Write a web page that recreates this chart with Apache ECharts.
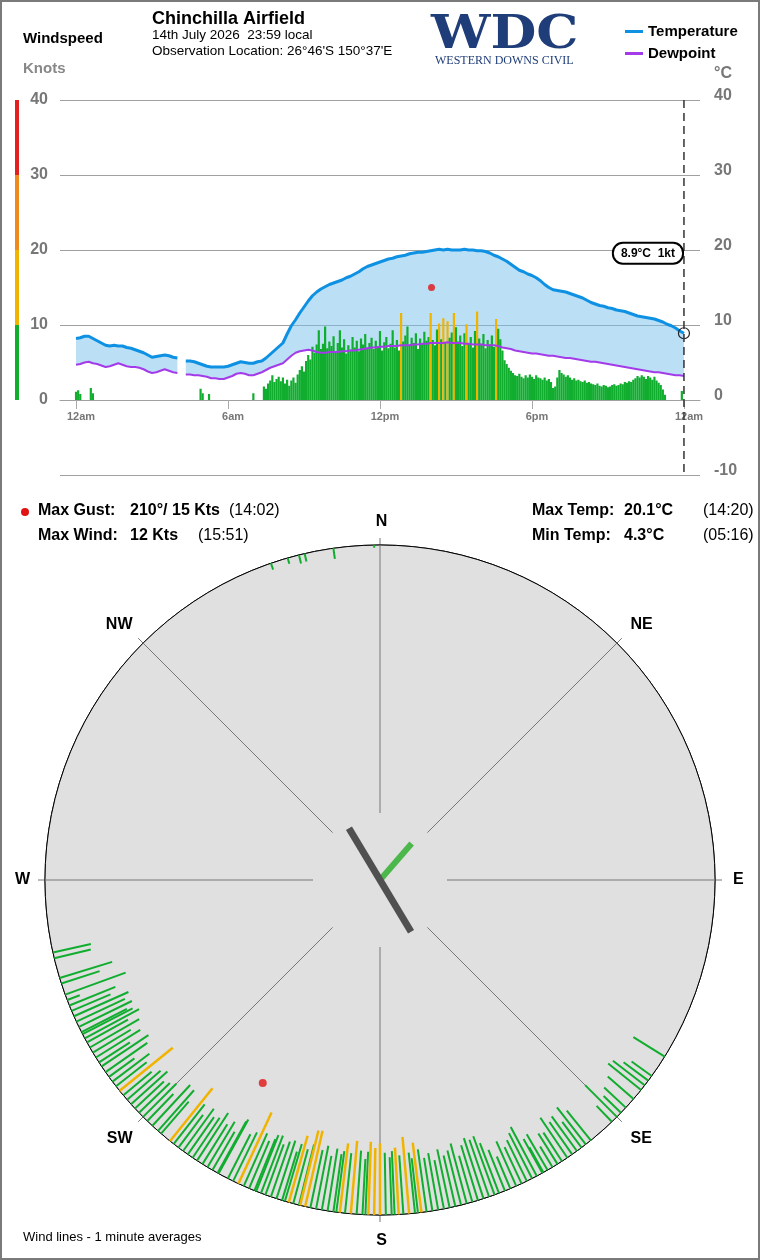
<!DOCTYPE html>
<html>
<head>
<meta charset="utf-8">
<title>Chinchilla Airfield</title>
<script src="https://cdn.jsdelivr.net/npm/echarts@6/dist/echarts.min.js"></script>
<style>
html, body { margin: 0; padding: 0; background: #fff; }
#wrap { position: relative; width: 760px; height: 1260px; }
#mycharts { width: 760px; height: 1260px; }
#frame { position: absolute; left: 0; top: 0; width: 760px; height: 1260px; box-sizing: border-box; border: 2px solid #7a7a7a; pointer-events: none; }
</style>
</head>
<body>
<div id="wrap"><div id="mycharts"></div><div id="frame"></div></div>
<script>
var FONT = '"Liberation Sans", Arial, sans-serif';
var GREEN = '#10ad2f', YELLOW = '#f0b400', BAND = 'rgba(120,192,236,0.5)';

// temperature / dewpoint, one value every 10 minutes from midnight (null = no data)
var tempStep = 10;
var tempVals = [
	8.2, 8.3, 8.5, 8.5, 8.2, 7.9, 7.6, 7.3, 7.2, 7.3, 7.2, 7.2,
	7.0, 6.9, 6.7, 6.5, 6.3, 6.0, 5.7, 5.8, 5.9, 6.0, 5.9, 5.7,
	5.6, null, 5.2, 5.2, 5.1, 4.9, 4.7, 4.5, 4.4, 4.4, 4.4, 4.4,
	4.5, 4.7, 4.9, 5.1, 5.0, 4.9, 4.9, 5.1, 5.2, 5.6, 6.1, 6.6,
	7.1, 7.6, 8.8, 9.9, 10.7, 11.6, 12.4, 13.2, 13.9, 14.4, 14.8, 15.1,
	15.4, 15.6, 15.8, 16.0, 16.3, 16.5, 16.8, 17.1, 17.5, 17.8, 18.0, 18.2,
	18.4, 18.6, 18.8, 18.9, 19.1, 19.2, 19.3, 19.5, 19.6, 19.7, 19.7, 19.8,
	19.9, 20.0, 20.1, 20.0, 20.1, 20.0, 20.0, 20.0, 20.1, 20.0, 20.0, 19.9,
	19.9, 19.8, 19.6, 19.3, 19.1, 18.8, 18.5, 18.1, 17.7, 17.3, 17.1, 16.8,
	16.6, 16.3, 15.9, 15.4, 15.0, 14.7, 14.6, 14.5, 14.4, 14.2, 14.0, 13.8,
	13.6, 13.3, 13.0, 12.8, 12.6, 12.5, 12.3, 12.2, 12.0, 11.9, 11.8, 11.6,
	11.4, 11.2, 11.1, 11.0, 10.9, 10.8, 10.6, 10.4, 10.1, 9.9, 9.6, 9.2,
	8.9
];
var dewVals = [
	4.7, 4.8, 5.0, 5.1, 4.9, 4.8, 4.6, 4.4, 4.5, 4.7, 4.9, 4.7,
	4.5, 4.4, 4.4, 4.3, 4.1, 3.8, 3.6, 3.7, 3.9, 4.1, 3.9, 3.7,
	3.6, null, 3.4, 3.4, 3.3, 3.3, 3.2, 3.1, 2.9, 2.9, 2.8, 2.8,
	3.0, 3.2, 3.5, 3.6, 3.5, 3.3, 3.3, 3.5, 3.7, 4.0, 4.3, 4.5,
	4.7, 4.9, 5.4, 5.9, 6.3, 6.5, 6.6, 6.7, 6.6, 6.4, 6.3, 6.3,
	6.4, 6.4, 6.4, 6.5, 6.5, 6.6, 6.6, 6.7, 6.8, 6.9, 7.0, 7.0,
	7.1, 7.1, 7.2, 7.2, 7.2, 7.3, 7.3, 7.3, 7.4, 7.4, 7.5, 7.5,
	7.6, 7.6, 7.6, 7.6, 7.7, 7.6, 7.6, 7.6, 7.5, 7.5, 7.4, 7.4,
	7.4, 7.3, 7.3, 7.3, 7.2, 7.0, 6.9, 6.8, 6.6, 6.5, 6.4, 6.3,
	6.2, 6.2, 6.1, 6.0, 5.9, 5.9, 5.8, 5.7, 5.6, 5.6, 5.5, 5.4,
	5.3, 5.2, 5.1, 5.1, 5.0, 4.9, 4.8, 4.7, 4.6, 4.5, 4.4, 4.3,
	4.2, 4.1, 4.0, 3.9, 3.8, 3.7, 3.7, 3.6, 3.5, 3.4, 3.3, 3.3,
	3.2
];

// wind speed (knots), one value every 5 minutes from midnight
var windStep = 5;
var windKts = [
	1.1, 1.3, 0.8, 0, 0, 0, 0, 1.6, 0.9,
	0, 0, 0, 0, 0, 0, 0, 0, 0, 0,
	0, 0, 0, 0, 0, 0, 0, 0, 0, 0,
	0, 0, 0, 0, 0, 0, 0, 0, 0, 0,
	0, 0, 0, 0, 0, 0, 0, 0, 0, 0,
	0, 0, 0, 0, 0, 0, 0, 0, 0, 0,
	1.5, 0.9, 0, 0, 0.8,
	0, 0, 0, 0, 0, 0, 0, 0, 0, 0,
	0, 0, 0, 0, 0, 0, 0, 0, 0, 0,
	0.9, 0, 0, 0, 0,
	1.8, 1.5, 2.2, 2.6, 3.3, 2.4, 2.8, 3.1, 2.5, 3.0, 2.2, 2.7,
	1.9, 2.6, 3.0, 2.3, 3.4, 4.0,
	4.5, 3.8, 5.2, 6.0, 5.4, 7.1,
	6.3, 7.4, 9.3, 6.8, 7.5, 9.8,
	6.9, 7.8, 7.2, 8.5, 6.4, 7.6,
	9.3, 7.0, 8.1, 6.2, 7.3, 6.7,
	8.4, 7.0, 7.9, 6.5, 8.2, 7.4,
	8.8, 6.9, 7.6, 8.3, 6.8, 7.9,
	7.1, 9.2, 6.6, 7.7, 8.4, 6.9,
	7.5, 9.3, 7.0, 8.0, 6.6, 11.6,
	7.8, 8.6, 9.8, 7.2, 8.3, 7.6,
	8.9, 6.8, 8.2, 7.5, 9.1, 7.9,
	8.4, 11.6, 8.0, 7.3, 9.4, 10.2,
	8.1, 10.9, 7.6, 10.5, 8.3, 9.0,
	11.6, 9.7, 7.8, 8.6, 7.2, 8.9,
	10.1, 7.6, 8.4, 7.0, 9.2, 11.8,
	8.2, 7.5, 8.8, 6.9, 8.0, 7.4,
	8.6, 7.1, 10.8, 9.5, 8.1, 6.6,
	5.3, 4.8, 4.3, 3.9, 3.6, 3.3,
	3.2, 3.5, 3.1, 2.9, 3.3, 3.0,
	3.4, 3.1, 2.8, 3.3, 3.0, 2.9,
	2.7, 3.0, 2.6, 2.8, 2.4, 1.6,
	1.8, 3.0, 4.0, 3.6, 3.4, 3.1,
	3.3, 3.0, 2.7, 2.9, 2.6, 2.7,
	2.5, 2.4, 2.6, 2.3, 2.4, 2.2,
	2.1, 2.0, 2.2, 1.9, 1.8, 2.0,
	1.9, 1.7, 1.8, 2.0, 2.1, 1.9,
	2.0, 2.2, 2.1, 2.4, 2.3, 2.5,
	2.4, 2.7, 2.9, 3.2, 3.0, 3.3,
	3.1, 2.8, 3.2, 3.0, 2.7, 3.1,
	2.6, 2.3, 2.0, 1.4, 0.7, 0,
	0, 0, 0, 0, 0, 0,
	1.2
];

var timeTicks = [0, 360, 720, 1080, 1440];
var timeLabels = ['12am', '6am', '12pm', '6pm', '12am'];
var nowMin = 1440;

var gust = { min: 842, kts: 15, dir: 210, time: '14:02' };
var maxWind = { kts: 12, time: '15:51' };
var maxTemp = { val: 20.1, time: '14:20' };
var minTemp = { val: 4.3, time: '05:16' };

// colour scale beside the knots axis (0-10, 10-20, 20-30, 30-40)
var scaleBands = [10, 10, 10, 10];
var scaleColors = [GREEN, YELLOW, '#f08a1c', '#e32020'];

// wind rose: direction (deg) and speed (kts) of the plotted wind lines
var roseDir = [
	341, 344, 346, 347, 352, 359,
	257.5, 256.5, 253, 252, 250, 249, 248, 247, 246, 245, 244, 243, 242.6, 241.8, 241, 240,
	239, 238, 237, 236.2, 235, 234, 233, 232, 231, 230, 229, 228, 227, 226, 225, 224,
	222.8, 221.5, 220.8, 218.8, 218, 217, 216, 215, 214, 213.1, 212, 211, 210, 209, 208.8,
	207, 206, 205, 204, 203, 202, 201.7, 200.8, 200, 199, 198, 197, 196.5, 195.8, 195, 194,
	193.8, 192.9, 192, 191, 190, 189, 188, 187.5, 186.9, 186, 185, 184, 183, 182.5, 182,
	181, 180, 179, 178, 177.5, 176.8, 176, 175, 174, 173.5, 172.9, 172, 171, 170, 169, 168,
	167, 166, 165, 164, 163, 162, 161, 160, 159.2, 158.1, 157.1, 156, 155, 154, 153, 152.1,
	151, 150.8, 150, 149, 148, 147.1, 146, 145, 144, 143, 142.1, 141,
	136.2, 135, 134, 132.8, 130.8, 128.8, 127.8, 126.8, 125.8, 121.8
];
var roseKts = [
	1.0, 0.9, 1.3, 1.2, 1.6, 0.4,
	5.8, 5.6, 8.2, 6.0, 9.6, 2.0, 7.4, 6.3, 8.9, 8.0, 8.8, 7.6, 8.4, 9.2, 7.0, 8.5,
	6.6, 7.8, 5.5, 8.4, 7.6, 4.7, 6.9, 5.8, 10.2, 5.5, 6.6, 7.3, 5.9, 6.4, 7.0, 5.6,
	8.3, 8.1, 6.3, 10.1, 7.5, 6.1, 7.8, 6.8, 7.2, 8.5, 7.0, 7.9, 6.6, 8.8, 9.2,
	7.4, 8.1, 11.7, 8.6, 7.7, 8.3, 9.0, 9.2, 8.0, 8.7, 9.1, 7.6, 8.9, 10.3, 8.4, 9.3,
	11.5, 11.6, 8.8, 9.6, 8.2, 9.4, 8.7, 9.2, 10.4, 9.0, 10.9, 9.5, 8.3, 9.4, 10.9,
	10.0, 10.7, 9.3, 8.6, 9.5, 10.0, 8.8, 11.5, 9.1, 8.2, 10.5, 9.4, 8.0, 8.6, 7.4, 8.9,
	7.8, 8.4, 9.3, 7.2, 8.6, 9.5, 9.0, 9.3, 8.0, 6.6, 5.2, 7.3, 6.0, 6.8, 7.6, 8.3,
	5.8, 4.3, 6.2, 3.6, 5.4, 5.1, 7.2, 5.9, 6.4, 4.8, 7.0, 5.7,
	3.3, 6.7, 3.6, 4.4, 5.1, 6.3, 6.0, 4.6, 3.7, 5.5
];

var spokeDirs = [0, 45, 90, 135, 180, 225, 270, 315];
var compassNames = ['N', 'NE', 'E', 'SE', 'S', 'SW', 'W', 'NW'];
var runwayDir = 329, runwayHalf = 9.0;   // runway drawn through the centre
var avgDir = 41, avgLen = 7.2;           // resultant wind vector

// ---- build series data
var tempData = [], dewData = [];
for (var i = 0; i < tempVals.length; i++) {
	tempData.push([i * tempStep, tempVals[i] == null ? '-' : tempVals[i]]);
	dewData.push([i * tempStep, dewVals[i] == null ? '-' : dewVals[i]]);
}
var windData = windKts.map(function(v, k) { return [k * windStep, v]; });
var roseData = roseDir.map(function(d, k) { return [roseKts[k], d]; });
var lastT = tempVals[tempVals.length - 1];
var lastW = windKts[windKts.length - 1];

function txt(x, y, s, font, fill) {
	return { type: 'text', x: x, y: y, style: { text: s, font: font, fill: fill || '#000', verticalAlign: 'middle' } };
}
var B16 = 'bold 16px ' + FONT, N16 = '16px ' + FONT;

// filled band between dewpoint and temperature, split at data gaps
function renderBand(params, api) {
	var children = [], top = [], bot = [];
	function flush() {
		if (top.length > 1) {
			children.push({ type: 'polygon', shape: { points: top.concat(bot.reverse()) }, style: { fill: BAND } });
		}
		top = []; bot = [];
	}
	for (var k = 0; k < tempVals.length; k++) {
		if (tempVals[k] == null || dewVals[k] == null) { flush(); continue; }
		top.push(api.coord([k * tempStep, tempVals[k]]));
		bot.push(api.coord([k * tempStep, dewVals[k]]));
	}
	flush();
	return { type: 'group', children: children };
}

var myChart = echarts.init(document.getElementById('mycharts'));
myChart.setOption({
	animation: false,
	backgroundColor: '#fff',
	textStyle: { fontFamily: FONT },
	legend: {
		data: ['Temperature', 'Dewpoint'],
		orient: 'vertical',
		left: 620,
		top: 19,
		icon: 'rect',
		itemWidth: 18,
		itemHeight: 3,
		itemGap: 7,
		textStyle: { fontSize: 15, fontWeight: 'bold', color: '#000', fontFamily: FONT }
	},
	graphic: [
		txt(23, 39, 'Windspeed', 'bold 15px ' + FONT),
		txt(23, 69, 'Knots', 'bold 15px ' + FONT, '#888'),
		txt(152, 19, 'Chinchilla Airfield', 'bold 18px ' + FONT),
		txt(152, 35, '14th July 2026  23:59 local', '13.5px ' + FONT),
		txt(152, 51, "Observation Location: 26\u00b046'S 150\u00b037'E", '13.5px ' + FONT),
		{ type: 'text', x: 431, y: 36, scaleX: 1.15, style: { text: 'WDC', font: 'bold 46px "DejaVu Serif", serif', fill: '#1f3d78', verticalAlign: 'middle' } },
		txt(435, 61, 'WESTERN DOWNS CIVIL', '12px "Liberation Serif", serif', '#1f3d78'),
		txt(714, 74, '\u00b0C', 'bold 16px ' + FONT, '#777'),
		{ type: 'circle', shape: { cx: 25, cy: 512, r: 4 }, style: { fill: '#e01414' } },
		txt(38, 511, 'Max Gust:', B16),
		txt(130, 511, gust.dir + '\u00b0/ ' + gust.kts + ' Kts', B16),
		txt(229, 511, '(' + gust.time + ')', N16),
		txt(38, 536, 'Max Wind:', B16),
		txt(130, 536, maxWind.kts + ' Kts', B16),
		txt(198, 536, '(' + maxWind.time + ')', N16),
		txt(532, 511, 'Max Temp:', B16),
		txt(624, 511, maxTemp.val.toFixed(1) + '\u00b0C', B16),
		txt(703, 511, '(' + maxTemp.time + ')', N16),
		txt(532, 536, 'Min Temp:', B16),
		txt(624, 536, minTemp.val.toFixed(1) + '\u00b0C', B16),
		txt(703, 536, '(' + minTemp.time + ')', N16),
		txt(23, 1237, 'Wind lines - 1 minute averages', '13px ' + FONT)
	],
	grid: [
		{ left: 60, right: 60, top: 100, height: 300 },   // data, 0..40
		{ left: 15, width: 4, top: 100, height: 300 },     // colour scale
		{ left: 60, right: 60, top: 100, height: 375 }     // gridlines + right axis, -10..40
	],
	xAxis: [{
		type: 'value',
		gridIndex: 0,
		min: -38,
		max: 1478,
		splitLine: { show: false },
		axisLine: { lineStyle: { color: '#a0a0a0' } },
		axisTick: { customValues: timeTicks, length: 9, lineStyle: { color: '#aaa' } },
		axisLabel: {
			customValues: timeTicks,
			formatter: function(v) { return timeLabels[timeTicks.indexOf(v)]; },
			color: '#777', fontWeight: 'bold', fontSize: 11, margin: 11, padding: [0, 0, 0, 10]
		}
	}, {
		type: 'category', gridIndex: 1, data: [''], show: false
	}, {
		type: 'value', gridIndex: 2, min: -38, max: 1478, show: false
	}],
	yAxis: [{
		type: 'value',
		gridIndex: 0,
		position: 'left',
		min: 0, max: 40, interval: 10,
		axisLine: { show: false },
		axisTick: { show: false },
		splitLine: { show: false },
		axisLabel: { color: '#777', fontWeight: 'bold', fontSize: 16, margin: 12 }
	}, {
		type: 'value', gridIndex: 1, min: 0, max: 40, show: false
	}, {
		type: 'value',
		gridIndex: 2,
		position: 'right',
		min: -10, max: 40, interval: 10,
		axisLine: { show: false },
		axisTick: { show: false },
		splitLine: { lineStyle: { color: '#a0a0a0' } },
		axisLabel: { color: '#777', fontWeight: 'bold', fontSize: 16, margin: 14, verticalAlign: 'bottom', lineHeight: 8 }
	}],
	polar: { center: [380, 880], radius: 335 },
	angleAxis: {
		type: 'value',
		min: 0, max: 360, interval: 45,
		startAngle: 90,
		clockwise: true,
		axisLine: { lineStyle: { color: '#000', width: 1 } },
		axisTick: { show: true, length: 7, lineStyle: { color: '#777' } },
		splitLine: { show: false },
		axisLabel: {
			formatter: function(v) { return compassNames[Math.round(v / 45) % 8]; },
			color: '#000', fontWeight: 'bold', fontSize: 16, margin: 15, padding: [3, 0, 0, 3]
		}
	},
	radiusAxis: {
		type: 'value',
		min: 0, max: 50, interval: 10,
		inverse: true,
		axisLine: { show: false },
		axisTick: { show: false },
		axisLabel: { show: false },
		splitLine: { lineStyle: { color: '#000', width: 1 } },
		splitArea: { show: true, areaStyle: { color: ['#e0e0e0'] } }
	},
	series: [
		// colour scale bar
		{ type: 'bar', xAxisIndex: 1, yAxisIndex: 1, stack: 'scale', barWidth: '100%', silent: true, data: [scaleBands[0]], itemStyle: { color: scaleColors[0] } },
		{ type: 'bar', xAxisIndex: 1, yAxisIndex: 1, stack: 'scale', barWidth: '100%', silent: true, data: [scaleBands[1]], itemStyle: { color: scaleColors[1] } },
		{ type: 'bar', xAxisIndex: 1, yAxisIndex: 1, stack: 'scale', barWidth: '100%', silent: true, data: [scaleBands[2]], itemStyle: { color: scaleColors[2] } },
		{ type: 'bar', xAxisIndex: 1, yAxisIndex: 1, stack: 'scale', barWidth: '100%', silent: true, data: [scaleBands[3]], itemStyle: { color: scaleColors[3] } },
		// band between dewpoint and temperature
		{ name: 'band', type: 'custom', xAxisIndex: 0, yAxisIndex: 0, silent: true, z: 1, data: [[0, 0]], renderItem: renderBand },
		// wind speed bars
		{
			name: 'Wind', type: 'bar', xAxisIndex: 0, yAxisIndex: 0, data: windData, barWidth: 2.2, z: 2,
			itemStyle: { color: function(p) { return p.value[1] >= 10 ? YELLOW : GREEN; } }
		},
		{
			name: 'Dewpoint', type: 'line', xAxisIndex: 0, yAxisIndex: 0, data: dewData, symbol: 'none', z: 3,
			itemStyle: { color: '#a33be8' },
			lineStyle: { color: '#a33be8', width: 2 }
		},
		{
			name: 'Temperature', type: 'line', xAxisIndex: 0, yAxisIndex: 0, data: tempData, symbol: 'none', z: 4,
			itemStyle: { color: '#0e91e3' },
			lineStyle: { color: '#0e91e3', width: 3 },
			markPoint: {
				silent: true,
				data: [{
					coord: [nowMin, lastT],
					symbol: 'circle',
					symbolSize: 11,
					itemStyle: { color: 'rgba(0,0,0,0)', borderColor: '#222', borderWidth: 1.2 },
					label: {
						show: true,
						position: 'inside',
						offset: [-36, -80],
						formatter: lastT.toFixed(1) + '\u00b0C  ' + Math.round(lastW) + 'kt',
						backgroundColor: '#fff',
						borderColor: '#000',
						borderWidth: 2,
						borderRadius: 9,
						padding: [4, 7, 3, 7],
						color: '#000', fontWeight: 'bold', fontSize: 12
					}
				}]
			}
		},
		// "now" dashed line over the full -10..40 range
		{
			name: 'now', type: 'custom', xAxisIndex: 2, yAxisIndex: 2, silent: true, z: 5,
			data: [[nowMin, 40, -10]],
			renderItem: function(params, api) {
				var a = api.coord([api.value(0), api.value(1)]);
				var b = api.coord([api.value(0), api.value(2)]);
				return { type: 'line', shape: { x1: a[0], y1: a[1], x2: b[0], y2: b[1] }, style: { stroke: '#333', lineWidth: 1.5, lineDash: [8, 5] } };
			}
		},
		{
			name: 'Gust', type: 'scatter', xAxisIndex: 0, yAxisIndex: 0, data: [[gust.min, gust.kts]], symbolSize: 7, z: 5,
			itemStyle: { color: '#e01414' }
		},
		// wind rose
		{
			name: 'spokes', type: 'custom', coordinateSystem: 'polar', silent: true,
			data: spokeDirs.map(function(d) { return [40, d]; }),
			renderItem: function(params, api) {
				var a = api.coord([api.value(0), api.value(1)]);
				var b = api.coord([0, api.value(1)]);
				return { type: 'line', shape: { x1: a[0], y1: a[1], x2: b[0], y2: b[1] }, style: { stroke: '#777', lineWidth: 1 } };
			}
		},
		{
			name: 'windLines', type: 'custom', coordinateSystem: 'polar', silent: true,
			data: roseData,
			renderItem: function(params, api) {
				var kts = api.value(0), dir = api.value(1);
				var p0 = api.coord([0, dir]);
				var p1 = api.coord([kts, dir]);
				var hi = kts >= 10;
				return {
					type: 'line', z2: hi ? 10 : 1,
					shape: { x1: p0[0], y1: p0[1], x2: p1[0], y2: p1[1] },
					style: { stroke: hi ? YELLOW : GREEN, lineWidth: hi ? 2.5 : 2 }
				};
			}
		},
		{
			name: 'centre', type: 'custom', coordinateSystem: 'polar', silent: true,
			data: [[avgLen, avgDir, 0], [runwayHalf, runwayDir, 1]],
			renderItem: function(params, api) {
				var len = api.value(0), dir = api.value(1), kind = api.value(2);
				var a, b;
				if (kind === 0) {
					a = api.coord([50, dir]);
					b = api.coord([50 - len, dir]);
					return { type: 'line', shape: { x1: a[0], y1: a[1], x2: b[0], y2: b[1] }, style: { stroke: '#4cb84c', lineWidth: 6 } };
				}
				a = api.coord([50 - len, dir]);
				b = api.coord([50 - len, dir + 180]);
				return { type: 'line', z2: 5, shape: { x1: a[0], y1: a[1], x2: b[0], y2: b[1] }, style: { stroke: '#505050', lineWidth: 7 } };
			}
		},
		{
			name: 'gustRose', type: 'scatter', coordinateSystem: 'polar', data: [[gust.kts, gust.dir]],
			symbolSize: 8, itemStyle: { color: '#e01414' }, z: 5
		}
	]
});
</script>
</body>
</html>
